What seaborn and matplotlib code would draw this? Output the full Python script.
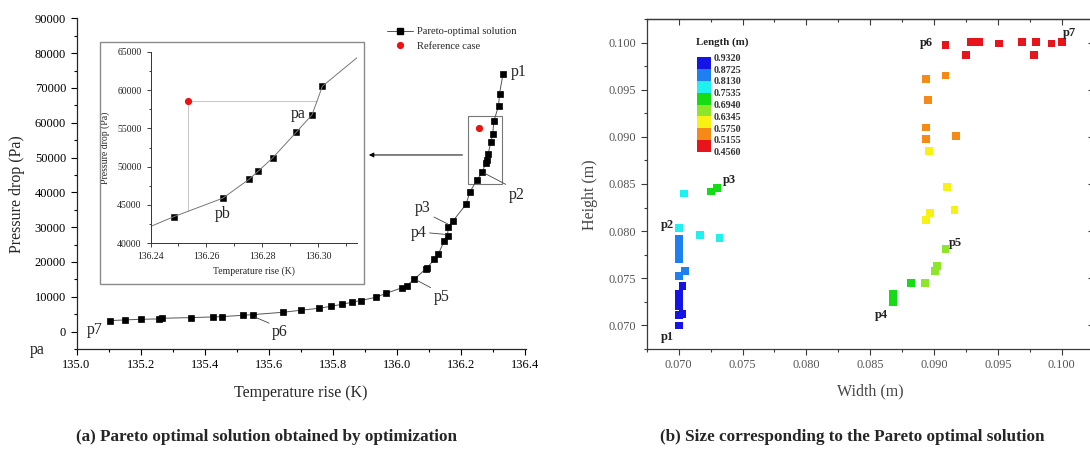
import matplotlib
matplotlib.use('Agg')
import matplotlib.pyplot as plt
import matplotlib.patches as mpatches
from matplotlib.lines import Line2D
from matplotlib.colors import ListedColormap, BoundaryNorm
from matplotlib.cm import ScalarMappable
from matplotlib.ticker import MultipleLocator, FormatStrFormatter
import seaborn as sns
import numpy as np
import pandas as pd

sns.set_style('ticks')
plt.rcParams['font.family'] = ['Liberation Serif', 'DejaVu Serif']

# (a) Pareto front: temperature rise vs pressure drop
temp_rise = [135.106, 135.150, 135.200, 135.258, 135.268, 135.358, 135.425, 135.455,
             135.520, 135.550, 135.645, 135.699, 135.756, 135.794, 135.829, 135.858,
             135.886, 135.934, 135.966, 136.014, 136.029, 136.053, 136.089, 136.092,
             136.116, 136.128, 136.146, 136.157, 136.159, 136.174, 136.215, 136.226,
             136.2483, 136.2659, 136.2753, 136.2785, 136.2837, 136.2921, 136.2978,
             136.3015, 136.316, 136.319, 136.330]
pressure_drop = [3160, 3350, 3540, 3640, 3830, 4020, 4210, 4310, 4690, 4880, 5560, 6130,
                 6700, 7280, 7850, 8430, 8910, 9870, 11020, 12550, 13120, 15040, 18010,
                 18200, 20790, 22220, 25960, 27590, 30170, 31800, 36590, 40040, 43466,
                 45893, 48362, 49402, 51135, 54471, 56768, 60494, 64850, 68390, 74040]
ref_temp = 136.2535
ref_dp = 58550

# (b) sizes of the Pareto solutions
width = [0.0700, 0.0700, 0.0703, 0.0700, 0.0700, 0.0700, 0.0703,
         0.0700, 0.0705, 0.0700, 0.0700, 0.0700, 0.0700,
         0.0700, 0.0717, 0.0732, 0.0704,
         0.0725, 0.0730, 0.0868, 0.0868, 0.0882,
         0.0893, 0.0901, 0.0902, 0.0909,
         0.0894, 0.0897, 0.0916, 0.0910, 0.0896,
         0.0894, 0.0894, 0.0917, 0.0895, 0.0894, 0.0909,
         0.0909, 0.0925, 0.0929, 0.0935, 0.0951, 0.0969, 0.0978, 0.0980, 0.0992, 0.1000]
height = [0.0700, 0.0711, 0.0712, 0.0721, 0.0728, 0.0733, 0.0742,
          0.0752, 0.0758, 0.0770, 0.0777, 0.0785, 0.0792,
          0.0803, 0.0796, 0.0793, 0.0840,
          0.0842, 0.0846, 0.0725, 0.0733, 0.0745,
          0.0745, 0.0758, 0.0763, 0.0781,
          0.0812, 0.0819, 0.0822, 0.0847, 0.0885,
          0.0898, 0.0910, 0.0901, 0.0939, 0.0961, 0.0965,
          0.0997, 0.0987, 0.1001, 0.1001, 0.0999, 0.1001, 0.0987, 0.1001, 0.0999, 0.1001]
length = [0.931, 0.925, 0.920, 0.912, 0.903, 0.895, 0.880,
          0.868, 0.860, 0.850, 0.840, 0.830, 0.820,
          0.810, 0.795, 0.780, 0.765,
          0.745, 0.735, 0.725, 0.715, 0.700,
          0.688, 0.675, 0.662, 0.645,
          0.628, 0.615, 0.605, 0.595, 0.580,
          0.570, 0.560, 0.550, 0.540, 0.530, 0.520,
          0.512, 0.505, 0.498, 0.492, 0.485, 0.478, 0.472, 0.468, 0.462, 0.457]
length_bounds = [0.4560, 0.5155, 0.5750, 0.6345, 0.6940, 0.7535, 0.8130, 0.8725, 0.9320]
length_colors = ['#e8141c', '#f58a16', '#f7f214', '#8ee62a', '#16dc16', '#20f0f0', '#1e80f0', '#1414e6']

W, H = 1090, 451
fig = plt.figure(figsize=(W / 100, H / 100), dpi=100)

def px(x0, y0, x1, y1):
    return [x0 / W, 1 - y1 / H, (x1 - x0) / W, (y1 - y0) / H]

# ---------------- (a) ----------------
ax = fig.add_axes(px(76.5, 18.3, 525.5, 349))
sns.lineplot(x=temp_rise, y=pressure_drop, ax=ax, sort=False, estimator=None,
             color='#555555', lw=0.7, marker='s', markersize=4.4,
             markerfacecolor='black', markeredgecolor='black', mew=0.5)
ax.plot([ref_temp], [ref_dp], 'o', color='#ee1111', markersize=5.2, mec='none')
ax.set_xlim(135.0, 136.4)
ax.set_ylim(-5000, 90000)
ax.set_xticks(np.arange(135.0, 136.41, 0.2))
ax.set_yticks(np.arange(0, 90001, 10000))
ax.xaxis.set_minor_locator(MultipleLocator(0.1))
ax.yaxis.set_minor_locator(MultipleLocator(5000))
ax.xaxis.set_major_formatter(FormatStrFormatter('%.1f'))
sns.despine(ax=ax)
ax.tick_params(which='both', direction='out', labelsize=9, width=0.8, colors='black')
ax.tick_params(which='major', length=4)
ax.tick_params(which='minor', length=2.5)
for s in ['left', 'bottom']:
    ax.spines[s].set_linewidth(0.9)
ax.set_xlabel('Temperature rise (K)', fontsize=11.5, va='center')
ax.xaxis.set_label_coords(0.5, -0.133)
ax.set_ylabel('Pressure drop (Pa)', fontsize=11.5, va='center')
ax.yaxis.set_label_coords(-0.133, 0.469)

handles = [Line2D([], [], color='#555555', lw=0.7, marker='s', markersize=4.4,
                  markerfacecolor='black', markeredgecolor='black'),
           Line2D([], [], ls='none', marker='o', color='#ee1111', markersize=5.2, mec='none')]
ax.legend(handles, ['Pareto-optimal solution', 'Reference case'], loc='upper left',
          bbox_to_anchor=(387 / W, 1 - 27 / H), bbox_transform=fig.transFigure,
          frameon=False, fontsize=7.6, handlelength=2.5, handletextpad=0.3,
          borderpad=0, borderaxespad=0, labelspacing=0.45)

# zoom box and arrow
ax.add_patch(mpatches.Rectangle((136.222, 42300), 0.105, 19500, fill=False,
                                edgecolor='#777777', lw=0.8))
ax.annotate('', xy=(135.903, 50740), xytext=(136.212, 50740),
            arrowprops=dict(arrowstyle='-|>', color='black', lw=0.7, mutation_scale=7))

lab_kw = dict(fontsize=11.5, ha='center', va='center')
leader = dict(arrowstyle='-', color='#444444', lw=0.6, shrinkA=0, shrinkB=0)
ax.text(136.378, 74670, 'p1', **lab_kw)
ax.annotate('p2', xy=(136.272, 45500), xytext=(136.3735, 39260), **lab_kw,
            arrowprops=dict(leader, relpos=(0.1, 1)))
ax.annotate('p3', xy=(136.158, 30900), xytext=(136.080, 35440), **lab_kw,
            arrowprops=dict(leader, relpos=(0.9, 0.1)))
ax.annotate('p4', xy=(136.152, 27900), xytext=(136.066, 28430), **lab_kw,
            arrowprops=dict(leader, relpos=(1, 0.5)))
ax.annotate('p5', xy=(136.062, 14700), xytext=(136.139, 10050), **lab_kw,
            arrowprops=dict(leader, relpos=(0.1, 0.9)))
ax.annotate('p6', xy=(135.558, 4100), xytext=(135.635, 0), **lab_kw,
            arrowprops=dict(leader, relpos=(0.1, 0.9)))
ax.text(135.058, 490, 'p7', **lab_kw)
fig.text(37 / W, 1 - 350 / H, 'pa', fontsize=11.5, ha='center', va='center')

# inset frame and inset axes
fig.add_artist(mpatches.Rectangle((99.8 / W, 1 - 283.7 / H), (363.9 - 99.8) / W,
                                  (283.7 - 42.3) / H, transform=fig.transFigure,
                                  fill=False, edgecolor='#8a8a8a', lw=1.0))
axi = fig.add_axes(px(150.5, 51.7, 357.3, 243.3))
ixlim = (136.24, 136.314)
iylim = (40000, 65000)
df = pd.DataFrame({'T': temp_rise, 'dP': pressure_drop})
inside = df[(df['T'] >= ixlim[0]) & (df['T'] <= ixlim[1] - 0.001) &
            (df['dP'] >= iylim[0]) & (df['dP'] <= iylim[1])]
sns.lineplot(data=df, x='T', y='dP', ax=axi, sort=False, estimator=None,
             color='#777777', lw=0.7)
sns.scatterplot(data=inside, x='T', y='dP', ax=axi, marker='s', s=21,
                color='black', edgecolor='black', linewidth=0.4)
axi.plot([ref_temp], [ref_dp], 'o', color='#ee1111', markersize=5.2, mec='none')
hx = np.interp(ref_dp, pressure_drop, temp_rise)
vy = np.interp(ref_temp, temp_rise, pressure_drop)
axi.plot([ref_temp, hx], [ref_dp, ref_dp], color='#bbbbbb', lw=0.6, zorder=0)
axi.plot([ref_temp, ref_temp], [ref_dp, vy], color='#bbbbbb', lw=0.6, zorder=0)
axi.set_xlim(*ixlim)
axi.set_ylim(*iylim)
axi.set_xticks([136.24, 136.26, 136.28, 136.30])
axi.set_yticks(np.arange(40000, 65001, 5000))
axi.xaxis.set_minor_locator(MultipleLocator(0.01))
axi.yaxis.set_minor_locator(MultipleLocator(2500))
axi.xaxis.set_major_formatter(FormatStrFormatter('%.2f'))
sns.despine(ax=axi)
axi.tick_params(which='both', direction='out', labelsize=7, width=0.6, colors='#222222')
axi.tick_params(which='major', length=3)
axi.tick_params(which='minor', length=1.8)
for s in ['left', 'bottom']:
    axi.spines[s].set_linewidth(0.7)
    axi.spines[s].set_color('#333333')
axi.set_xlabel('Temperature rise (K)', fontsize=7, va='center')
axi.xaxis.set_label_coords(0.5, -(270.7 - 243.3) / 191.6)
axi.set_ylabel('Pressure drop (Pa)', fontsize=7, va='center')
axi.yaxis.set_label_coords((105 - 150.5) / 206.8, 0.5)
axi.text(136.2927, 56811, 'pa', fontsize=11.5, ha='center', va='center')
axi.text(136.2658, 43813, 'pb', fontsize=11.5, ha='center', va='center')

# ---------------- (b) ----------------
cmap = ListedColormap(length_colors)
norm = BoundaryNorm(length_bounds, cmap.N)
sizes = pd.DataFrame({'Width': width, 'Height': height, 'Length': length})

axr = fig.add_axes(px(646.8, 19, 1093.6, 349))
sns.scatterplot(data=sizes, x='Width', y='Height', hue='Length', palette=cmap,
                hue_norm=norm, marker='s', s=32, linewidth=0, legend=False, ax=axr)
axr.set_xlim(0.0675, 0.1025)
axr.set_ylim(0.0675, 0.1025)
xt = np.arange(0.070, 0.1001, 0.005)
yt = np.arange(0.070, 0.1001, 0.005)
axr.set_xticks(xt)
axr.set_yticks(yt)
axr.xaxis.set_minor_locator(MultipleLocator(0.0025))
axr.yaxis.set_minor_locator(MultipleLocator(0.0025))
axr.xaxis.set_major_formatter(FormatStrFormatter('%.3f'))
axr.yaxis.set_major_formatter(FormatStrFormatter('%.3f'))
gray = '#3a3a3a'
axr.tick_params(which='both', direction='out', labelsize=8.8, width=0.8,
                colors=gray, labelcolor='#555555')
axr.tick_params(which='major', length=4)
axr.tick_params(which='minor', length=2.5)
for s in axr.spines.values():
    s.set_linewidth(0.9)
    s.set_color(gray)
secx = axr.secondary_xaxis('top')
secx.set_xticks(xt)
secx.xaxis.set_minor_locator(MultipleLocator(0.0025))
secx.tick_params(which='both', direction='in', labeltop=False, colors=gray, width=0.8)
secx.tick_params(which='major', length=4)
secx.tick_params(which='minor', length=2.5)
secy = axr.secondary_yaxis('right')
secy.set_yticks(yt)
secy.yaxis.set_minor_locator(MultipleLocator(0.0025))
secy.tick_params(which='both', direction='in', labelright=False, colors=gray, width=0.8)
secy.tick_params(which='major', length=4)
secy.tick_params(which='minor', length=2.5)
for sec in (secx, secy):
    for s in sec.spines.values():
        s.set_color(gray)
        s.set_linewidth(0.9)

axr.set_xlabel('Width (m)', fontsize=11.5, color='#444444', va='center')
axr.xaxis.set_label_coords(0.4996, -0.129)
axr.set_ylabel('Height (m)', fontsize=11.5, color='#444444', va='center')
axr.yaxis.set_label_coords(-0.127, 0.467)

bkw = dict(fontsize=9, fontweight='bold', ha='center', va='center', color='#222222')
axr.text(0.06908, 0.06878, 'p1', **bkw)
axr.text(0.06908, 0.08061, 'p2', **bkw)
axr.text(0.07397, 0.08542, 'p3', **bkw)
axr.text(0.0859, 0.0711, 'p4', **bkw)
axr.text(0.09171, 0.07872, 'p5', **bkw)
axr.text(0.08942, 0.09995, 'p6', **bkw)
axr.text(0.10058, 0.10102, 'p7', **bkw)

# Length colour key
cax = fig.add_axes(px(696.7, 57.3, 711, 151.7))
cb = fig.colorbar(ScalarMappable(norm=norm, cmap=cmap), cax=cax, ticks=length_bounds)
cb.outline.set_visible(False)
cb.ax.set_yticklabels(['%.4f' % b for b in length_bounds])
cb.ax.tick_params(length=0, pad=2, labelsize=7.2, labelcolor='#333333')
for t in cb.ax.get_yticklabels():
    t.set_fontweight('bold')
fig.text(722.3 / W, 1 - 41.7 / H, 'Length (m)', fontsize=7.8, fontweight='bold',
         ha='center', va='center', color='#222222')

# captions
fig.text(267 / W, 1 - 437 / H, '(a) Pareto optimal solution obtained by optimization',
         fontsize=12.3, fontweight='bold', ha='center', va='center')
fig.text(852.6 / W, 1 - 437 / H, '(b) Size corresponding to the Pareto optimal solution',
         fontsize=12.3, fontweight='bold', ha='center', va='center')

fig.savefig('out.png', dpi=100)
